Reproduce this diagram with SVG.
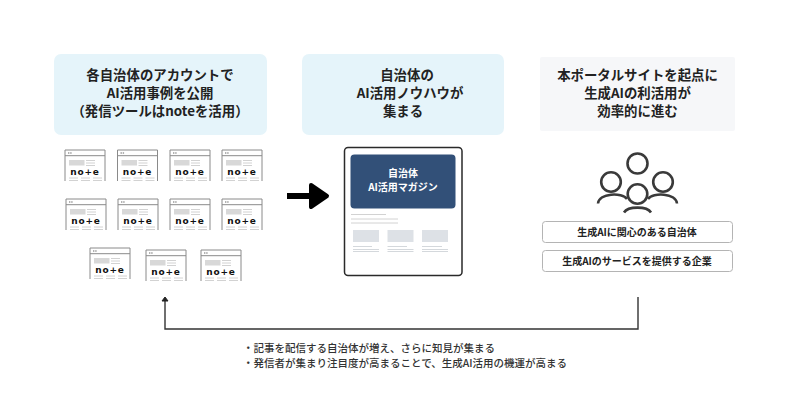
<svg xmlns="http://www.w3.org/2000/svg" width="800" height="419" viewBox="0 0 800 419">
<style>
text{font-family:"Noto Sans CJK JP","Noto Sans",sans-serif;text-anchor:middle;fill:#222}
.h{font-size:13.4px;font-weight:700}
.pill{fill:#fff;stroke:#b4b4b4;stroke-width:1}
.lbl{font-size:10px;font-weight:700}
.note{font-family:"DejaVu Sans",sans-serif;font-size:9px;font-weight:700;letter-spacing:.8px;fill:#111}
.ln{stroke:#d2d2d2;stroke-width:1;fill:none}
.lm{stroke:#d4d8dc;stroke-width:1;fill:none}
.ppl{fill:none;stroke:#3a3a3a;stroke-width:2.600}
.conn{fill:none;stroke:#333;stroke-width:1.400}
.cap{font-size:10.5px;text-anchor:start;fill:#333;font-weight:500}
.mt{font-size:10px;font-weight:700;fill:#fff}
</style>
<defs>
<g id="card">
<path d="M0 31V0H40V31" fill="#fff" stroke="#8a8a8a" stroke-width="1"/>
<path d="M0 5.700H40" stroke="#8a8a8a" stroke-width="1"/>
<path d="M3 3H7" stroke="#999" stroke-width="1.400" stroke-dasharray="1.400 .8"/>
<rect x="4" y="10" width="15.500" height="5.500" fill="#d8d8d8"/>
<path class="ln" d="M21 10.500H30M21 13H30M21 15.500H30"/>
<text class="note" x="20" y="25">no+e</text>
<path class="ln" d="M4 28H13M16 28H25M28 28H37M4 30.500H13M16 30.500H25M28 30.500H37"/>
</g>
</defs>
<rect width="800" height="419" fill="#fff"/>
<g id="head1"><rect x="54" y="54" width="213" height="81" rx="7" fill="#e5f4fa"/>
<text class="h"><tspan x="160" y="80">各自治体のアカウントで</tspan><tspan x="160" y="98">AI活用事例を公開</tspan><tspan x="160" y="116">（発信ツールはnoteを活用）</tspan></text></g>
<g id="head2"><rect x="302" y="54" width="202" height="81" rx="7" fill="#e5f4fa"/>
<text class="h"><tspan x="407" y="80">自治体の</tspan><tspan x="410" y="98">AI活用ノウハウが</tspan><tspan x="403" y="116">集まる</tspan></text></g>
<g id="head3"><rect x="540" y="57" width="195" height="74" rx="2" fill="#f6f7f9"/>
<text class="h"><tspan x="637.500" y="80">本ポータルサイトを起点に</tspan><tspan x="637.500" y="98">生成AIの利活用が</tspan><tspan x="637.500" y="116">効率的に進む</tspan></text></g>
<g id="card1"><use href="#card" x="65" y="150"/></g>
<g id="card2"><use href="#card" x="117.500" y="150"/></g>
<g id="card3"><use href="#card" x="170" y="150"/></g>
<g id="card4"><use href="#card" x="222" y="150"/></g>
<g id="card5"><use href="#card" x="66" y="199"/></g>
<g id="card6"><use href="#card" x="118" y="199"/></g>
<g id="card7"><use href="#card" x="170" y="199"/></g>
<g id="card8"><use href="#card" x="222" y="199"/></g>
<g id="card9"><use href="#card" x="90" y="248"/></g>
<g id="card10"><use href="#card" x="146" y="250"/></g>
<g id="card11"><use href="#card" x="201" y="250"/></g>
<g id="magazine">
<rect x="344.500" y="147.500" width="117.500" height="128" rx="3.500" fill="#fff" stroke="#2a2a2a" stroke-width="1.500"/>
<rect x="350.500" y="154.500" width="105" height="54" rx="4" fill="#325078"/>
<text class="mt"><tspan x="403" y="177">自治体</tspan><tspan x="403" y="191">AI活用マガジン</tspan></text>
<path class="ln" d="M351 214.500H386M351 219H398M351 223H398"/>
<rect x="353" y="230" width="26" height="12" fill="#dde1e6"/><rect x="387.500" y="230" width="26" height="12" fill="#dde1e6"/><rect x="422" y="230" width="26" height="12" fill="#dde1e6"/>
<path class="lm" d="M353 246.500H372M353 249.500H379M353 251.500H379M387.500 246.500H407M387.500 249.500H413.500M387.500 251.500H413.500M422 246.500H442M422 249.500H448M422 251.500H448"/>
</g>
<g id="people">
<circle cx="637.500" cy="163.500" r="10" class="ppl"/>
<circle cx="611" cy="182" r="9.800" class="ppl"/>
<circle cx="663" cy="182" r="9.800" class="ppl"/>
<circle cx="637.500" cy="194" r="9.800" class="ppl"/>
<path class="ppl" d="M598 203.500C599 193 622 192 627 199"/>
<path class="ppl" d="M648 199C653 192 676 193 677 203.500"/>
<path class="ppl" d="M624 212.500C628 206 647 206 651 212.500"/>
</g>
<g id="pill1"><rect class="pill" x="542.500" y="221.500" width="190" height="21" rx="3"/><text class="lbl" x="637" y="235.500">生成AIに関心のある自治体</text></g>
<g id="pill2"><rect class="pill" x="542.500" y="250.500" width="190" height="21" rx="3"/><text class="lbl" x="637" y="264.500">生成AIのサービスを提供する企業</text></g>
<g id="connectors">
<path d="M287 196H310" fill="none" stroke="#000" stroke-width="6"/>
<path d="M311 185L327 196L311 207Z" fill="#000" stroke="#000" stroke-width="4" stroke-linejoin="round"/>
<path class="conn" d="M638 297V329H165V300"/>
<path d="M165 297L168 301H162Z" fill="#222" stroke="#222" stroke-linejoin="round"/>
</g>
<g id="caption">
<text class="cap"><tspan x="243" y="351.500">・記事を配信する自治体が増え、さらに知見が集まる</tspan><tspan x="243" y="366.500">・発信者が集まり注目度が高まることで、生成AI活用の機運が高まる</tspan></text>
</g>
</svg>
